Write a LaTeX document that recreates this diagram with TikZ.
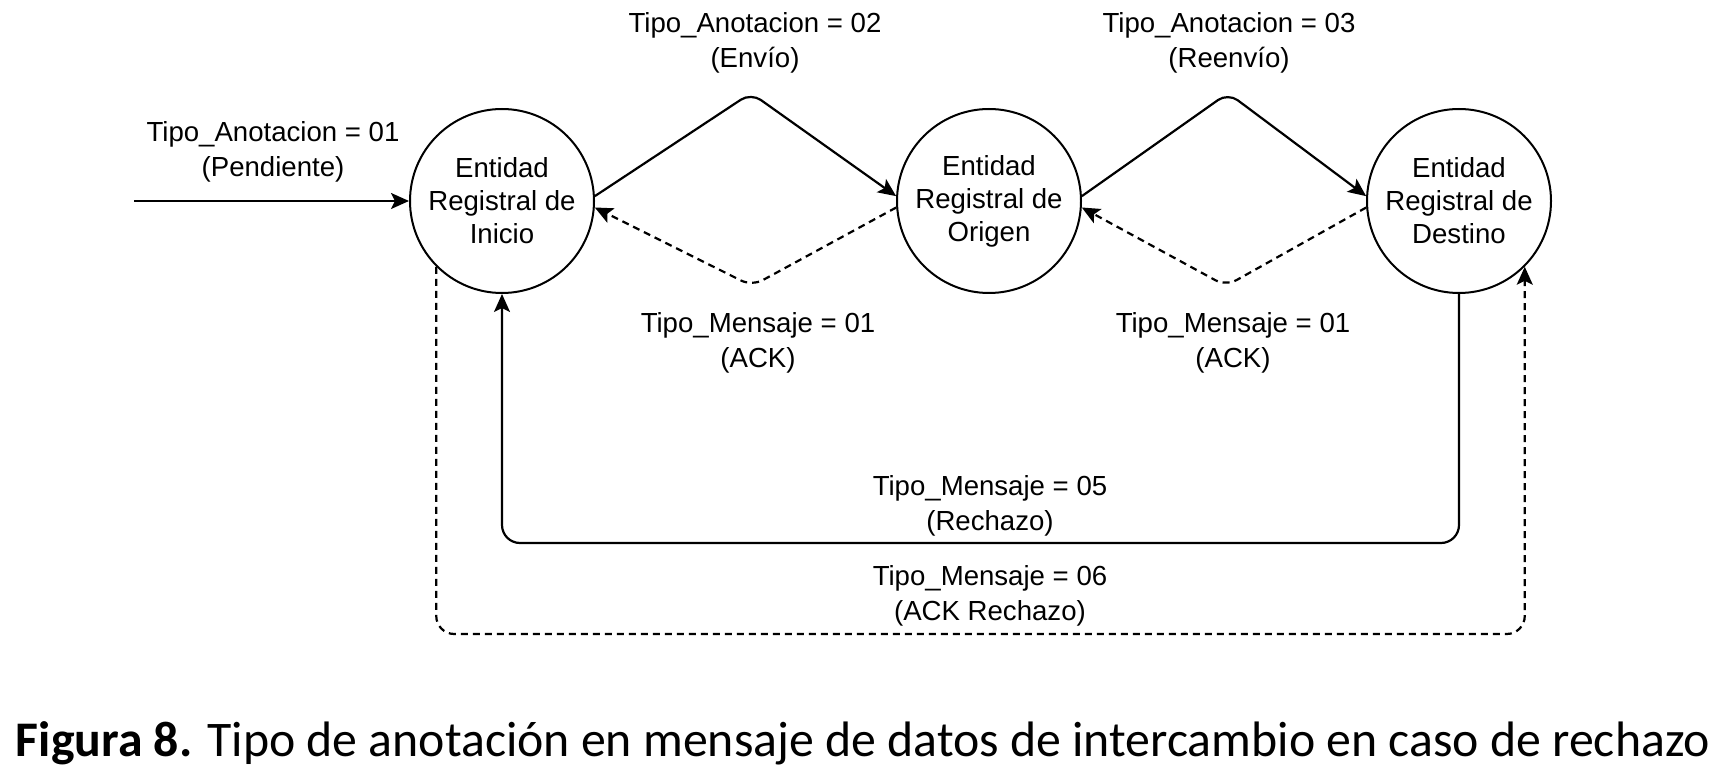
\documentclass[tikz,border=0pt]{standalone}
\usepackage{fontspec}
\setmainfont{Liberation Sans}
\newfontfamily\capfont{Carlito}
\usetikzlibrary{arrows.meta}
\begin{document}
\begin{tikzpicture}[x=0.5pt,y=-0.5pt,
  ent/.style={circle,draw,line width=1pt,minimum size=92pt,inner sep=0pt,align=center,font=\fontsize{13.8}{16.5}\selectfont},
  lbl/.style={align=center,font=\fontsize{13.8}{17.25}\selectfont,inner sep=0pt},
  conn/.style={line width=1.1pt,-{Stealth[length=9pt,width=8pt,inset=2pt]}},
  back/.style={conn,dash pattern=on 3.5pt off 2.5pt},
]
\useasboundingbox (0,0) rectangle (1725,775);

\node[ent] (ini) at (502,201) {Entidad\\Registral de\\Inicio};
\node[ent] (org) at (989,201) {Entidad\\Registral de\\Origen};
\node[ent] (des) at (1459,201) {Entidad\\Registral de\\Destino};

\coordinate (start) at (134,201);
\coordinate (pk1) at (751,93);
\coordinate (va1) at (752,286);
\coordinate (pk2) at (1228,93);
\coordinate (va2) at (1226,286);
\coordinate (rej) at (0,543);
\coordinate (ackrej) at (0,634);

% incoming
\draw[conn] (start) -- (ini.west);
\node[lbl] (l01) at (273,152) {Tipo\_Anotacion = 01\\(Pendiente)};

% top connectors
\draw[conn,rounded corners=6pt] (ini.3) -- (pk1) -- (org.177);
\draw[back,rounded corners=6pt] (org.184) -- (va1) -- (ini.-4);
\draw[conn,rounded corners=6pt] (org.3) -- (pk2) -- (des.177);
\draw[back,rounded corners=6pt] (des.184) -- (va2) -- (org.-4);

\node[lbl] (l02) at (755,43) {Tipo\_Anotacion = 02\\(Envío)};
\node[lbl] (l03) at (1229,43) {Tipo\_Anotacion = 03\\(Reenvío)};
\node[lbl] (m01a) at (758,343) {Tipo\_Mensaje = 01\\(ACK)};
\node[lbl] (m01b) at (1233,343) {Tipo\_Mensaje = 01\\(ACK)};

% bottom connectors
\draw[conn,rounded corners=9pt] (des.south) -- (des.south |- rej) -- (ini.south |- rej) -- (ini.south);
\draw[back,rounded corners=9pt] (ini.225) -- (ini.225 |- ackrej) -- (des.-45 |- ackrej) -- (des.-45);

\node[lbl] (m05) at (990,506) {Tipo\_Mensaje = 05\\(Rechazo)};
\node[lbl] (m06) at (990,596) {Tipo\_Mensaje = 06\\(ACK Rechazo)};

% caption
\node[anchor=base,inner sep=0pt,font=\capfont\fontsize{24.9}{29}\selectfont] (cap) at (863,756)
  {\textbf{Figura 8.} Tipo de anotación en mensaje de datos de intercambio en caso de rechazo};
\end{tikzpicture}
\end{document}
